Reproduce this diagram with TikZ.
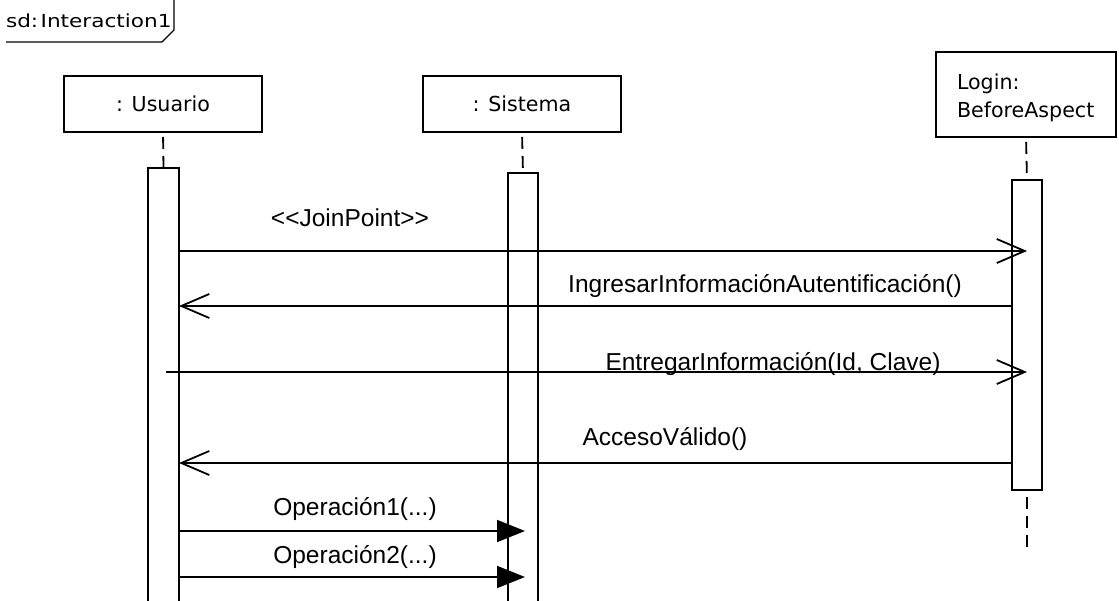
\documentclass[tikz,border=0pt]{standalone}
\usepackage{fontspec}
\setmainfont{Liberation Sans}
\newfontfamily\boxfont{DejaVu Sans}
\usetikzlibrary{arrows.meta}
\begin{document}
\begin{tikzpicture}[x=1pt,y=-1pt,
  every node/.style={inner sep=0pt, outer sep=0pt},
  head/.style={draw, line width=1.8pt, rectangle, minimum width=198pt, minimum height=56pt, font=\boxfont\fontsize{20.6}{24}\selectfont},
  boxtext/.style={anchor=base west, font=\boxfont\fontsize{20.6}{24}\selectfont},
  act/.style={draw, line width=1.8pt, fill=white, minimum width=30pt, anchor=north},
  life/.style={line width=1.8pt, dash pattern=on 12pt off 7pt},
  msgopen/.style={line width=1.8pt, -{Straight Barb[length=28pt,width=24pt]}},
  msgfill/.style={line width=1.8pt, -{Triangle[length=28pt,width=22pt]}},
  lbl/.style={anchor=base, font=\fontsize{24.5}{28}\selectfont}
]
\useasboundingbox (0,0) rectangle (1119,601);
\fill[white] (0,0) rectangle (1119,601);

% frame label
\node[anchor=base west, font=\boxfont\fontsize{18}{22}\selectfont] (frame) at (6,28) {\scalebox{1.2}[1]{sd:\kern2pt Interaction1}};
\coordinate (fa) at (174,0);
\coordinate (fb) at (174,30);
\coordinate (fc) at (162,42);
\coordinate (fd) at (6,42);
\draw[line width=1.4pt] (fa) -- (fb) -- (fc) -- (fd);

% lifeline heads
\node[head] (usuario) at (163,104) {: Usuario};
\node[head] (sistema) at (522,104) {: Sistema};
\node[draw, line width=1.8pt, minimum width=180pt, minimum height=85pt] (login) at (1026,94.5) {};
\node[boxtext] (logina) at (957,90) {Login:};
\node[boxtext] (loginb) at (957,118) {BeforeAspect};

% activations
\node[act, minimum width=31pt, minimum height=440pt] (ua) at (163.5,168) {};
\node[act, minimum height=432pt] (sa) at (523,173) {};
\node[act, minimum height=310pt] (la) at (1027,180) {};

% dashed lifelines
\draw[life, dash phase=14pt] (usuario.south) -- (ua.north);
\draw[life, dash phase=14pt] (sistema.south) -- (sa.north);
\draw[life, dash phase=14pt] (login.south) -- (la.north);
\coordinate (lend) at (1027,548);
\draw[life, dash phase=12pt] (la.south) -- (lend);

% messages
\draw[msgopen] (ua.east |- 0,251) -- (la.center |- 0,251);
\node[lbl] (l1) at (350,227) {<\kern0pt<JoinPoint>\kern0pt>};

\draw[msgopen] (la.west |- 0,306) -- (ua.east |- 0,306);
\node[lbl] (l2) at (765,293) {IngresarInformaciónAutentificación()};

\draw[msgopen] ([xshift=2.5pt]ua.center |- 0,372) -- (la.center |- 0,372);
\node[lbl] (l3) at (773,371) {EntregarInformación(Id, Clave)};

\draw[msgopen] (la.west |- 0,463) -- (ua.east |- 0,463);
\node[lbl] (l4) at (665,445) {AccesoVálido()};

\draw[msgfill] (ua.east |- 0,531) -- ([xshift=2pt]sa.center |- 0,531);
\node[lbl] (l5) at (355,515) {Operación1(...)};

\draw[msgfill] (ua.east |- 0,577) -- ([xshift=2pt]sa.center |- 0,577);
\node[lbl] (l6) at (355,563) {Operación2(...)};
\end{tikzpicture}
\end{document}
